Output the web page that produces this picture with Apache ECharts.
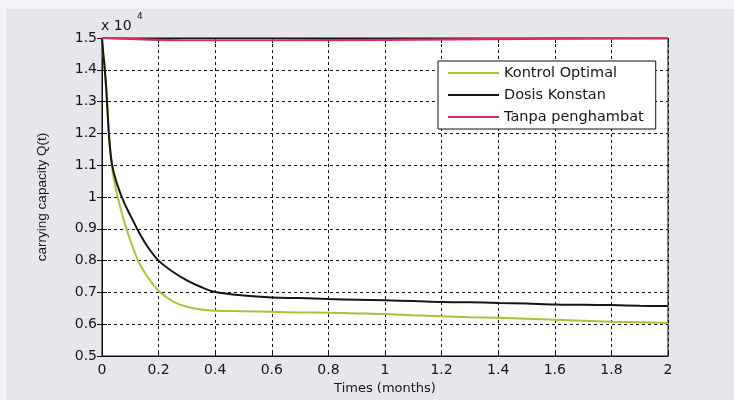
<!DOCTYPE html>
<html><head><meta charset="utf-8">
<script src="https://cdn.jsdelivr.net/npm/echarts@6/dist/echarts.min.js"></script>
<style>html,body{margin:0;padding:0;background:#f3f3f6}#c{width:734px;height:400px}</style>
</head><body><div id="c"></div>
<script>
const seriesNames = ['Kontrol Optimal', 'Dosis Konstan', 'Tanpa penghambat'];
const times = [0, 0.004, 0.008, 0.015, 0.025, 0.035, 0.05, 0.07, 0.09, 0.11, 0.13, 0.16, 0.2, 0.25, 0.3, 0.35, 0.4, 0.5, 0.6, 0.7, 0.8, 0.9, 1.0, 1.1, 1.2, 1.3, 1.4, 1.5, 1.6, 1.7, 1.8, 1.9, 2.0];
const kontrolOptimal = [1.5, 1.455, 1.42, 1.34, 1.19, 1.095, 1.02, 0.95, 0.89, 0.84, 0.795, 0.75, 0.705, 0.672, 0.655, 0.646, 0.642, 0.641, 0.639, 0.637, 0.636, 0.634, 0.632, 0.628, 0.625, 0.622, 0.62, 0.617, 0.614, 0.611, 0.608, 0.606, 0.604];
const dosisKonstan = [1.5, 1.455, 1.42, 1.34, 1.19, 1.105, 1.05, 1.0, 0.96, 0.925, 0.89, 0.845, 0.8, 0.765, 0.738, 0.717, 0.701, 0.69, 0.684, 0.682, 0.679, 0.677, 0.675, 0.673, 0.67, 0.669, 0.667, 0.665, 0.662, 0.661, 0.66, 0.658, 0.657];
const tanpaTimes = [0, 0.1, 0.3, 0.6, 1.0, 1.5, 2.0];
const tanpaPenghambat = [1.5, 1.497, 1.493, 1.493, 1.494, 1.497, 1.499];
const xTicks = ['0','0.2','0.4','0.6','0.8','1','1.2','1.4','1.6','1.8','2'];
const yTicks = ['0.5','0.6','0.7','0.8','0.9','1','1.1','1.2','1.3','1.4','1.5'];
const xName = 'Times (months)';
const yName = 'carrying capacity Q(t)';
const scaleText = 'x 10';
const scaleExp = '4';

const zip = (xs, ys) => xs.map((x, i) => [x, ys[i]]);
const fnt = 'DejaVu Sans';
const ink = '#161616';
const chart = echarts.init(document.getElementById('c'));
chart.setOption({
  animation: false,
  backgroundColor: '#f3f3f6',
  graphic: [
    {type: 'rect', shape: {x: 6, y: 9, width: 728, height: 391}, style: {fill: '#e6e6ec'}, z: -10},
    {type: 'text', left: 101, top: 19, style: {text: scaleText, font: '14px "DejaVu Sans"', fill: ink}},
    {type: 'text', left: 137, top: 12, style: {text: scaleExp, font: '9px "DejaVu Sans"', fill: ink}}
  ],
  grid: {left: 102, right: 66, top: 38, bottom: 41, show: true, backgroundColor: '#fff', borderColor: '#111', borderWidth: 1},
  legend: {
    data: seriesNames, orient: 'vertical', left: 438, top: 61,
    padding: [4, 12, 4, 10], itemGap: 6, itemWidth: 51, itemHeight: 2, itemTextGap: 7, icon: 'rect',
    backgroundColor: '#fff', borderColor: '#111', borderWidth: 1, borderRadius: 0,
    textStyle: {fontFamily: fnt, fontSize: 14.5, color: ink, lineHeight: 16}
  },
  xAxis: [{
    type: 'value', min: 0, max: 2, interval: 0.2,
    name: xName, nameLocation: 'middle', nameGap: 26,
    nameTextStyle: {fontFamily: fnt, fontSize: 13, color: ink},
    axisLine: {show: true, lineStyle: {color: '#111'}},
    axisTick: {show: true, inside: true, length: 5, lineStyle: {color: '#111'}},
    axisLabel: {fontFamily: fnt, fontSize: 14, color: ink, margin: 7, formatter: (v) => xTicks[Math.round(v / 0.2)]},
    splitLine: {show: true, lineStyle: {color: '#111', type: [3, 3], width: 1}}
  }, {
    type: 'value', min: 0, max: 2, interval: 0.2, position: 'top',
    axisLine: {show: true, lineStyle: {color: '#111'}},
    axisTick: {show: true, inside: true, length: 5, lineStyle: {color: '#111'}},
    axisLabel: {show: false}, splitLine: {show: false}
  }],
  yAxis: [{
    type: 'value', min: 0.5, max: 1.5, interval: 0.1,
    name: yName, nameLocation: 'middle', nameGap: 53,
    nameTextStyle: {fontFamily: 'Liberation Sans', fontSize: 13.5, color: ink},
    axisLine: {show: true, lineStyle: {color: '#111'}},
    axisTick: {show: true, inside: true, length: 5, lineStyle: {color: '#111'}},
    axisLabel: {fontFamily: fnt, fontSize: 14, color: ink, margin: 5, formatter: (v) => yTicks[Math.round((v - 0.5) / 0.1)]},
    splitLine: {show: true, lineStyle: {color: '#111', type: [3, 3], width: 1}}
  }, {
    type: 'value', min: 0.5, max: 1.5, interval: 0.1, position: 'right',
    axisLine: {show: true, lineStyle: {color: '#111'}},
    axisTick: {show: true, inside: true, length: 5, lineStyle: {color: '#111'}},
    axisLabel: {show: false}, splitLine: {show: false}
  }],
  series: [
    {name: seriesNames[0], type: 'line', data: zip(times, kontrolOptimal), showSymbol: false, symbol: 'none', smooth: 0.3,
     lineStyle: {color: '#a8c23c', width: 2}, itemStyle: {color: '#a8c23c'}, z: 3},
    {name: seriesNames[1], type: 'line', data: zip(times, dosisKonstan), showSymbol: false, symbol: 'none', smooth: 0.3,
     lineStyle: {color: '#151515', width: 2}, itemStyle: {color: '#151515'}, z: 4},
    {name: seriesNames[2], type: 'line', data: zip(tanpaTimes, tanpaPenghambat), showSymbol: false, symbol: 'none', smooth: 0.3,
     lineStyle: {color: '#d4305f', width: 2.2}, itemStyle: {color: '#d4305f'}, z: 5}
  ]
});
</script></body></html>
